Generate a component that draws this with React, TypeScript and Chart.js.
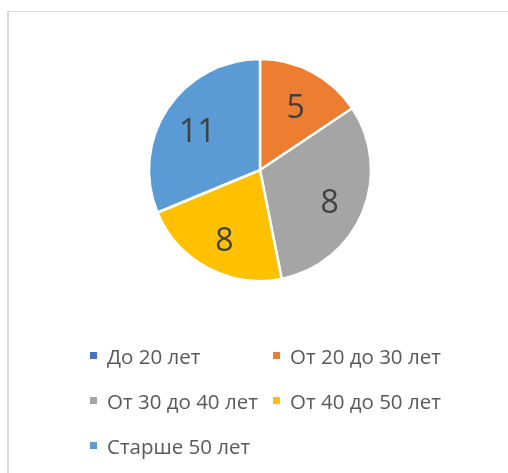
import React, { useEffect, useRef } from "react";
import { Chart, registerables } from "chart.js";

Chart.register(...registerables);

const categories = ["До 20 лет", "От 20 до 30 лет", "От 30 до 40 лет", "От 40 до 50 лет", "Старше 50 лет"];
const sliceValues = [0, 5, 10, 7, 10];
const dataLabels = ["0", "5", "8", "8", "11"];
const colors = ["#4472C4", "#ED7D31", "#A5A5A5", "#FFC000", "#5B9BD5"];

const FONT = "'Open Sans', 'DejaVu Sans', sans-serif";

const labelPlugin = {
  id: "sliceLabels",
  afterDatasetsDraw(chart: any) {
    const ctx = chart.ctx;
    const meta = chart.getDatasetMeta(0);
    ctx.save();
    ctx.font = `32px ${FONT}`;
    ctx.fillStyle = "#404040";
    ctx.textAlign = "center";
    ctx.textBaseline = "middle";
    meta.data.forEach((arc: any, i: number) => {
      if (!sliceValues[i]) return;
      const { x, y, startAngle, endAngle, outerRadius } = arc.getProps(
        ["x", "y", "startAngle", "endAngle", "outerRadius"],
        true
      );
      const mid = (startAngle + endAngle) / 2;
      const r = outerRadius * 0.68;
      ctx.fillText(dataLabels[i], x + Math.cos(mid) * r, y + Math.sin(mid) * r + 5);
    });
    ctx.restore();
  },
};

export default function App() {
  const ref = useRef<HTMLCanvasElement | null>(null);

  useEffect(() => {
    if (!ref.current) return;
    const chart = new Chart(ref.current, {
      type: "pie",
      data: {
        labels: categories,
        datasets: [
          {
            data: sliceValues,
            backgroundColor: colors,
            borderColor: "#ffffff",
            borderWidth: 2.5,
            hoverOffset: 0,
            offset: 0,
            radius: 111,
          } as any,
        ],
      },
      options: {
        animation: false,
        responsive: false,
        events: [],
        layout: { padding: { left: 150, right: 138, top: 60, bottom: 193 } },
        plugins: {
          legend: { display: false },
          tooltip: { enabled: false },
        },
      },
      plugins: [labelPlugin],
    });
    return () => chart.destroy();
  }, []);

  return (
    <div style={{ position: "fixed", left: 0, top: 0, width: 508, height: 473, background: "#fff", overflow: "hidden" }}>
      <div
        style={{
          position: "absolute",
          left: 7,
          top: 11,
          width: 520,
          height: 480,
          borderLeft: "2px solid #d9d9d9",
          borderTop: "1px solid #d9d9d9",
        }}
      />
      <canvas ref={ref} width={508} height={473} style={{ position: "absolute", left: 0, top: 0 }} />
      <div
        style={{
          position: "absolute",
          left: 90,
          top: 341,
          display: "grid",
          gridTemplateColumns: "183px 200px",
          rowGap: 16,
          fontFamily: FONT,
          fontSize: 20.5,
          color: "#595959",
          whiteSpace: "nowrap",
        }}
      >
        {categories.map((c, i) => (
          <div key={c} style={{ display: "flex", alignItems: "center", height: 29 }}>
            <span style={{ display: "inline-block", width: 7, height: 7, background: colors[i], marginRight: 10 }} />
            <span>{c}</span>
          </div>
        ))}
      </div>
    </div>
  );
}
